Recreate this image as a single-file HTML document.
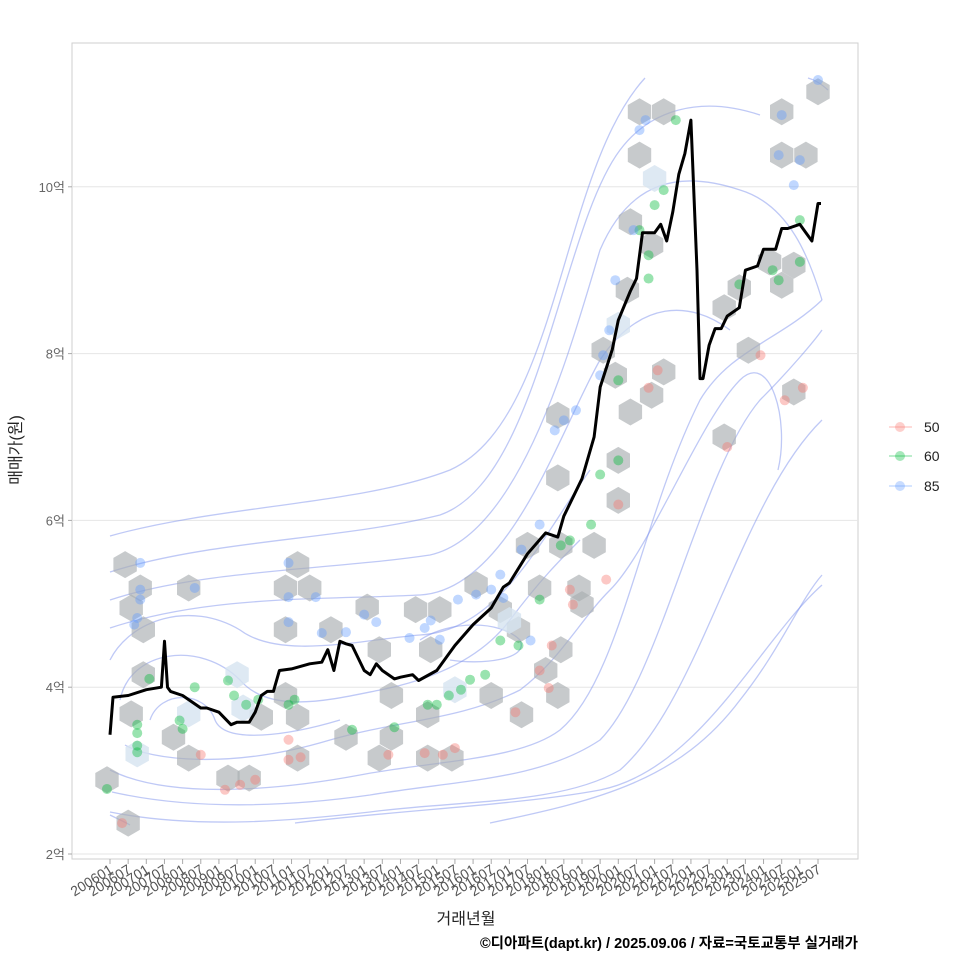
<!DOCTYPE html>
<html><head><meta charset="utf-8">
<style>
html,body{margin:0;padding:0;background:#fff;}
svg{display:block;font-family:"Liberation Sans","Noto Sans CJK KR",sans-serif;}
</style></head>
<body>
<svg id="chart" width="960" height="960" viewBox="0 0 960 960" xmlns="http://www.w3.org/2000/svg">
<rect x="0" y="0" width="960" height="960" fill="#fff"/>
<rect x="72" y="43" width="786" height="816" fill="#fff" stroke="#cfcfcf" stroke-width="1"/>
<g id="grid"></g>
<g id="contours" fill="none" stroke="#7f93ee" stroke-opacity="0.5" stroke-width="1.3">
<path d="M110,536 C220,505 360,505 450,470 C560,420 560,170 645,78"/>
<path d="M110,572 C210,540 340,540 440,515 C540,480 560,230 620,150 C650,110 700,95 760,115"/>
<path d="M110,600 C200,570 330,570 430,555 C520,535 570,350 600,250 C630,180 680,170 740,190 C790,205 810,260 822,300"/>
<path d="M110,628 C210,595 320,600 420,595 C510,590 560,430 600,360 C640,300 690,300 730,330"/>
<path d="M110,660 C130,620 190,600 240,630 C280,660 360,640 420,635 C500,630 540,540 590,470"/>
<path d="M120,700 C130,650 200,640 240,680 C270,715 330,700 380,690 C430,680 480,660 510,620 C540,580 560,560 580,540"/>
<path d="M150,720 C160,690 205,690 215,720 C225,745 290,735 340,720"/>
<path d="M420,640 C450,620 500,620 520,640 C530,660 480,665 450,660"/>
<path d="M125,745 C150,760 230,770 330,740 C400,720 460,720 520,690 C560,660 580,620 610,590 C650,550 700,420 740,380 C770,350 790,420 778,470"/>
<path d="M110,770 C170,800 280,790 360,775 C440,760 520,760 560,730 C620,680 640,520 700,400 C730,350 780,340 822,300"/>
<path d="M112,792 C200,812 300,805 370,795 C460,780 540,780 600,740 C660,680 700,470 760,400 C790,370 815,340 822,330"/>
<path d="M110,812 C200,830 300,820 370,812 C460,800 560,805 620,770 C700,700 740,500 822,420"/>
<path d="M295,823 C400,810 520,805 600,790 C700,770 760,640 822,585"/>
<path d="M490,823 C600,800 680,780 740,700 C780,650 800,600 822,575"/>
<path d="M110,815 C120,820 125,822 130,825"/>
<path d="M808,78 C815,80 820,83 828,90"/>
</g>
<g id="hexes"></g>
<g id="points"></g>
<g id="line"></g>
<g id="axes"></g>
<g>
<g><line x1="889" y1="427" x2="912" y2="427" stroke="#f8766d" stroke-opacity="0.35" stroke-width="1.5"/><circle cx="900" cy="427" r="5" fill="#f8766d" fill-opacity="0.35"/><text x="924" y="432" font-size="14" fill="#222">50</text></g>
<g><line x1="889" y1="456" x2="912" y2="456" stroke="#00ba38" stroke-opacity="0.35" stroke-width="1.5"/><circle cx="900" cy="456" r="5" fill="#00ba38" fill-opacity="0.35"/><text x="924" y="461" font-size="14" fill="#222">60</text></g>
<g><line x1="889" y1="486" x2="912" y2="486" stroke="#619cff" stroke-opacity="0.35" stroke-width="1.5"/><circle cx="900" cy="486" r="5" fill="#619cff" fill-opacity="0.35"/><text x="924" y="491" font-size="14" fill="#222">85</text></g>
</g>
<text x="21" y="450" font-size="16" fill="#222" text-anchor="middle" transform="rotate(-90 21 450)">매매가(원)</text>
<text x="466" y="924" font-size="16" fill="#222" text-anchor="middle">거래년월</text>
<text x="858" y="948" font-size="14.5" font-weight="bold" fill="#000" text-anchor="end">©디아파트(dapt.kr) / 2025.09.06 / 자료=국토교통부 실거래가</text>
</svg>
<script>
const yTicks = [2,4,6,8,10];
const xTickLabels = ["200601","200607","200701","200707","200801","200807","200901","200907","201001","201007","201101","201107","201201","201207","201301","201307","201401","201407","201501","201507","201601","201607","201701","201707","201801","201807","201901","201907","202001","202007","202101","202107","202201","202207","202301","202307","202401","202407","202501","202507"];
const lineMonths = [0,1,6,12,17,18,19,20,24,30,32,36,40,42,46,48,50,52,54,56,60,66,70,72,74,76,78,80,84,86,88,90,94,96,100,102,108,112,114,120,126,130,132,138,144,148,150,156,160,162,166,168,172,174,176,180,182,184,186,188,190,192,194,195,196,198,200,202,204,208,210,214,216,220,222,224,228,230,232,234,235];
const linePrices = [3.43,3.88,3.9,3.97,4.0,4.55,4.0,3.95,3.9,3.75,3.75,3.7,3.55,3.58,3.58,3.7,3.9,3.95,3.95,4.2,4.22,4.28,4.3,4.45,4.2,4.55,4.52,4.5,4.2,4.15,4.28,4.2,4.1,4.12,4.15,4.08,4.2,4.4,4.5,4.75,4.95,5.2,5.25,5.6,5.85,5.8,6.05,6.5,7.0,7.6,8.05,8.4,8.75,8.9,9.45,9.45,9.55,9.35,9.7,10.15,10.4,10.8,9.0,7.7,7.7,8.1,8.3,8.3,8.45,8.55,9.0,9.05,9.25,9.25,9.5,9.5,9.55,9.45,9.35,9.8,9.8];
const hexMonths = [5,10,7,11,11,7,-1,6,26,42,26,21,26,39,46,50,62,58,66,58,62,62,58,73,78,85,89,89,93,93,101,109,106,105,105,113,121,129,126,135,136,138,142,148,148,149,160,156,149,148,144,163,167,168,168,172,171,168,175,183,175,180,172,179,179,183,203,203,208,211,222,222,230,234,226,222,226,218,114,155,9,44,132];
const hexValues = [5.47,5.19,4.95,4.69,4.15,3.68,2.89,2.37,5.19,4.15,3.68,3.4,3.15,2.91,2.91,3.64,5.47,5.19,5.19,4.69,3.64,3.15,3.9,4.69,3.4,4.96,4.45,3.15,3.9,3.4,4.93,4.93,4.45,3.67,3.15,3.15,5.23,4.93,3.9,4.69,3.67,5.7,5.19,7.26,6.51,5.7,5.7,4.99,4.45,3.9,4.2,8.04,7.74,6.72,6.24,7.3,8.76,8.34,10.9,10.9,10.38,10.1,9.58,9.3,7.5,7.78,7.0,8.55,8.79,8.04,10.9,10.38,10.38,11.14,7.54,8.82,9.06,9.1,3.97,5.19,3.2,3.75,4.8];
const hexLight = [9,10,61,78,80,81,82,57];
const p50Months = [4,30,38,43,48,59,59,63,92,104,110,114,134,142,145,146,152,153,164,168,178,181,204,215,223,229];
const p50Values = [2.37,3.19,2.77,2.83,2.89,3.37,3.13,3.16,3.19,3.21,3.19,3.27,3.7,4.2,3.99,4.5,5.17,4.99,5.29,6.19,7.59,7.8,6.88,7.98,7.44,7.59];
const p60Months = [-1,9,9,9,9,13,23,24,28,39,41,45,49,59,61,80,94,105,108,112,116,119,124,129,135,142,149,152,159,162,168,168,175,178,178,180,183,187,208,219,221,228,228];
const p60Values = [2.78,3.3,3.45,3.22,3.55,4.1,3.6,3.5,4.0,4.08,3.9,3.79,3.85,3.79,3.85,3.49,3.52,3.79,3.79,3.9,3.97,4.09,4.15,4.56,4.5,5.05,5.7,5.76,5.95,6.55,6.72,7.68,9.48,9.18,8.9,9.78,9.96,10.8,8.83,9.0,8.88,9.6,9.1];
const p85Months = [10,10,10,9,8,28,59,59,59,68,70,78,84,88,99,104,106,109,115,121,126,129,130,136,139,142,147,150,154,162,163,165,167,173,175,177,222,221,226,228,234];
const p85Values = [5.49,5.17,5.05,4.83,4.75,5.19,5.49,5.08,4.78,5.08,4.65,4.66,4.87,4.78,4.59,4.71,4.8,4.57,5.05,5.11,5.17,5.35,5.07,5.65,4.56,5.95,7.08,7.2,7.32,7.74,7.98,8.28,8.88,9.48,10.68,10.8,10.86,10.38,10.02,10.32,11.28];

const NS = "http://www.w3.org/2000/svg";
function xScale(m){ return 110 + m * (708/234); }
function yScale(v){ return 854 - (v - 2) * 83.4; }
function mk(tag, attrs, parent){ const e = document.createElementNS(NS, tag); for (const k in attrs) e.setAttribute(k, attrs[k]); parent.appendChild(e); return e; }

const grid = document.getElementById('grid');
const axes = document.getElementById('axes');
yTicks.forEach(function(t){
  const y = yScale(t);
  const g = mk('line', {x1:72, x2:858, y1:y, y2:y, stroke:'#e6e6e6', 'stroke-width':1}, grid);
  
  
  mk('line', {x1:68, x2:72, y1:y, y2:y, stroke:'#aaa'}, axes);
  const tx = mk('text', {x:65, y:y+5, 'font-size':13, fill:'#666', 'text-anchor':'end'}, axes);
  tx.textContent = t + '억';
  
  
});
xTickLabels.forEach(function(lab, i){
  const x = xScale(i * 6);
  mk('line', {x1:x, x2:x, y1:859, y2:864, stroke:'#aaa'}, axes);
  const tx = mk('text', {x:x+4, y:872, 'font-size':14, fill:'#555', 'text-anchor':'end', transform:'rotate(-32 '+(x+4)+' 872)'}, axes);
  tx.textContent = lab;
  
  
});

const hexG = document.getElementById('hexes');
function hexPath(cx, cy, r){
  let d = '';
  for (let k = 0; k < 6; k++){ const a = Math.PI/180*(60*k - 90); d += (k?'L':'M') + (cx + r*Math.cos(a)).toFixed(1) + ',' + (cy + r*Math.sin(a)).toFixed(1); }
  return d + 'Z';
}
hexMonths.forEach(function(m, i){
  const light = hexLight.indexOf(i) >= 0;
  const h = mk('path', {d:hexPath(xScale(m), yScale(hexValues[i]), 13.5), fill: light ? '#d6e3f0' : '#a9adb1', 'fill-opacity': light ? 0.8 : 0.65}, hexG);
  
  
});

const ptG = document.getElementById('points');
function drawPts(ms, vs, col, name){
  ms.forEach(function(m, i){
    const c = mk('circle', {cx:xScale(m), cy:yScale(vs[i]), r:5, fill:col, 'fill-opacity':0.4}, ptG);
    
    
  });
}
drawPts(p50Months, p50Values, '#f8766d', 'point-50');
drawPts(p60Months, p60Values, '#00ba38', 'point-60');
drawPts(p85Months, p85Values, '#619cff', 'point-85');

const lineG = document.getElementById('line');
const d = lineMonths.map(function(m, i){ return (i?'L':'M') + xScale(m).toFixed(1) + ',' + yScale(linePrices[i]).toFixed(1); }).join('');
const ln = mk('path', {d:d, fill:'none', stroke:'#000', 'stroke-width':3, 'stroke-linejoin':'round'}, lineG);


</script>
</body></html>
